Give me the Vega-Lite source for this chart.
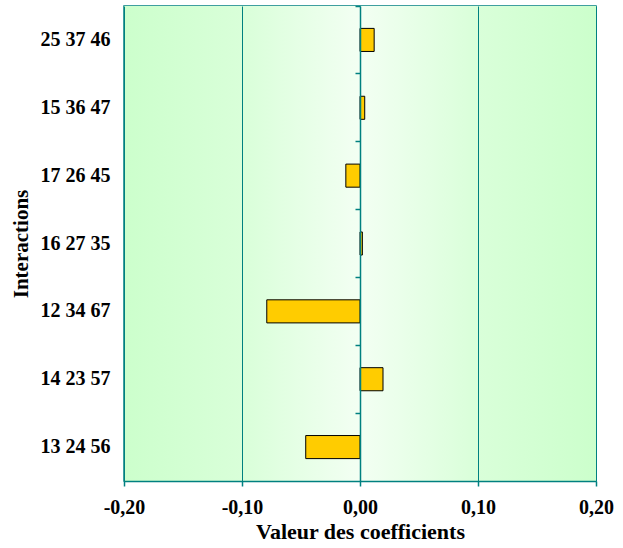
{
  "$schema": "https://vega.github.io/schema/vega-lite/v6.json",
  "autosize": "none",
  "width": 472,
  "height": 475,
  "padding": {"left": 124, "top": 6, "right": 27, "bottom": 67},
  "background": "white",
  "config": {
    "view": {"stroke": "#008080", "strokeWidth": 1.5},
    "font": "Liberation Serif"
  },
  "data": {
    "values": [
      {"interaction": "25 37 46", "coef": 0.012},
      {"interaction": "15 36 47", "coef": 0.004},
      {"interaction": "17 26 45", "coef": -0.012},
      {"interaction": "16 27 35", "coef": 0.002},
      {"interaction": "12 34 67", "coef": -0.079},
      {"interaction": "14 23 57", "coef": 0.0195},
      {"interaction": "13 24 56", "coef": -0.046}
    ]
  },
  "resolve": {"axis": {"y": "independent"}},
  "layer": [
    {
      "data": {"values": [{}]},
      "mark": {
        "type": "rect",
        "fill": {
          "gradient": "linear",
          "x1": 0, "x2": 1, "y1": 0, "y2": 0,
          "stops": [
            {"offset": 0, "color": "#CCFFCC"},
            {"offset": 0.25, "color": "#D9FFD9"},
            {"offset": 0.5, "color": "#F3FFF3"},
            {"offset": 0.75, "color": "#D9FFD9"},
            {"offset": 1, "color": "#CCFFCC"}
          ]
        }
      },
      "encoding": {
        "x": {"datum": -0.2, "type": "quantitative", "scale": {"domain": [-0.2, 0.2], "nice": false}},
        "x2": {"datum": 0.2}
      }
    },
    {
      "mark": {"type": "bar", "fill": "#FFCC00", "stroke": "#000000", "strokeWidth": 1},
      "encoding": {
        "y": {
          "field": "interaction",
          "type": "nominal",
          "sort": null,
          "scale": {"paddingInner": 0.66, "paddingOuter": 0.33},
          "axis": {
            "zindex": 1,
            "domain": false,
            "ticks": false,
            "labelPadding": 14,
            "labelFont": "Liberation Serif",
            "labelFontSize": 20,
            "labelFontWeight": "bold",
            "labelColor": "#000000",
            "title": "Interactions",
            "titleFont": "Liberation Serif",
            "titleFontSize": 21,
            "titleFontWeight": "bold",
            "titleColor": "#000000",
            "titlePadding": 9
          }
        },
        "x": {
          "field": "coef",
          "type": "quantitative",
          "scale": {"domain": [-0.2, 0.2], "nice": false},
          "axis": {
            "zindex": 1,
            "values": [-0.2, -0.1, 0, 0.1, 0.2],
            "labelExpr": "replace(replace(format(datum.value, '.2f'), '.', ','), '\u2212', '-')",
            "grid": true,
            "gridColor": "#008080",
            "gridWidth": 1,
            "gridOpacity": 1,
            "domainColor": "#008080",
            "domainWidth": 1.5,
            "tickColor": "#008080",
            "tickWidth": 1.5,
            "tickSize": 5,
            "labelPadding": 11,
            "labelFont": "Liberation Serif",
            "labelFontSize": 20,
            "labelFontWeight": "bold",
            "labelColor": "#000000",
            "labelFlush": false,
            "title": "Valeur des coefficients",
            "titleFont": "Liberation Serif",
            "titleFontSize": 22,
            "titleFontWeight": "bold",
            "titleColor": "#000000",
            "titlePadding": 4
          }
        }
      }
    },
    {
      "mark": {"type": "bar", "opacity": 0},
      "encoding": {
        "y": {
          "field": "interaction",
          "type": "nominal",
          "sort": null,
          "axis": {
            "orient": "left",
            "offset": -236,
            "zindex": 1,
            "labels": false,
            "title": null,
            "domain": true,
            "domainColor": "#008080",
            "domainWidth": 1.5,
            "ticks": true,
            "tickColor": "#008080",
            "tickWidth": 1.5,
            "tickSize": 5,
            "bandPosition": -0.97
          }
        },
        "x": {"field": "coef", "type": "quantitative"}
      }
    }
  ]
}
